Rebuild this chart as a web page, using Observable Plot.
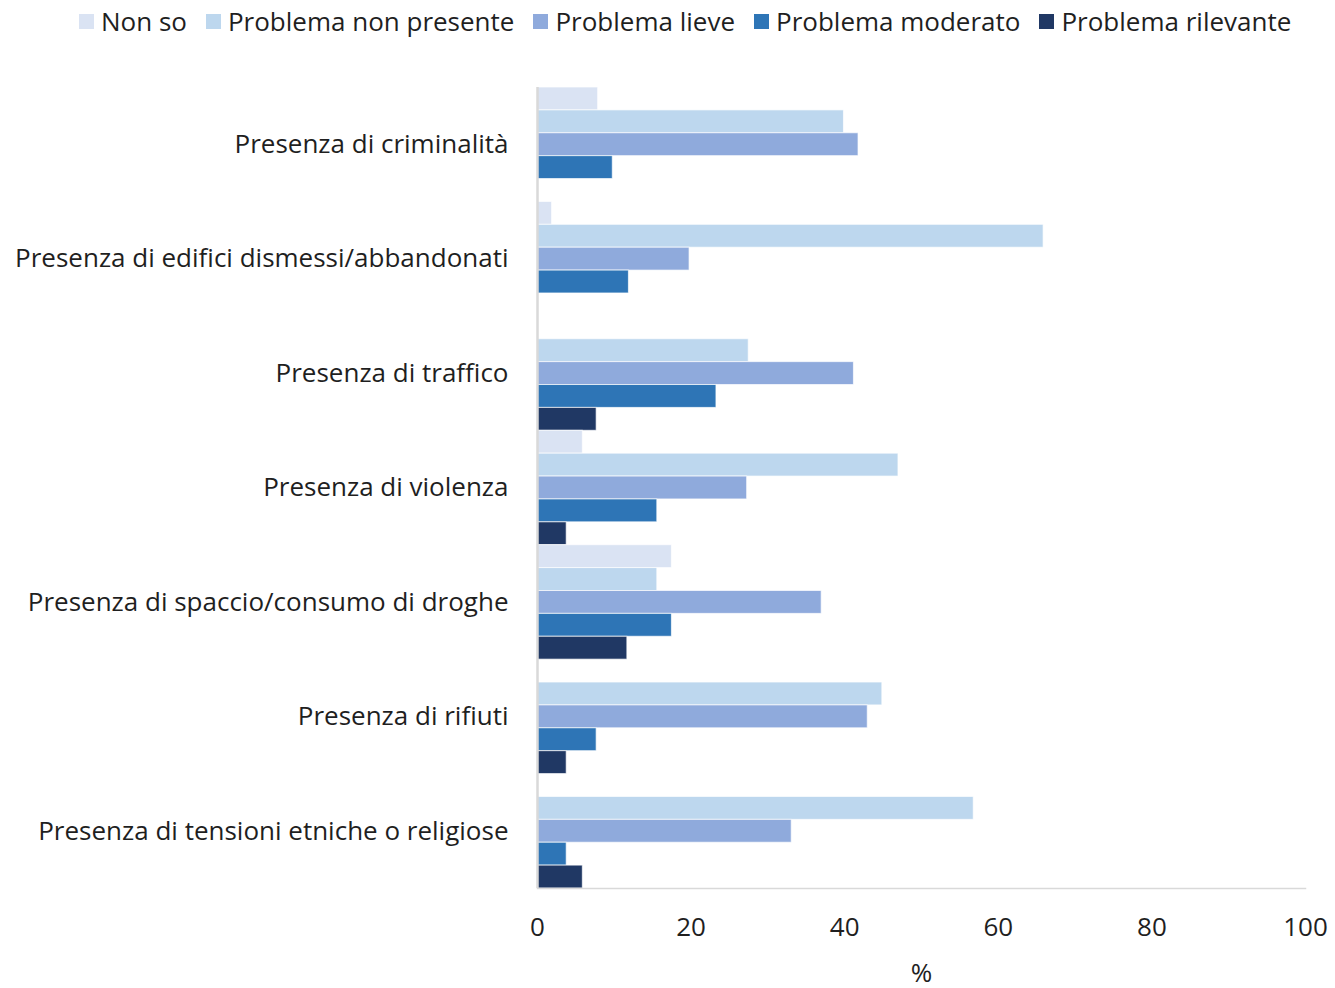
<!DOCTYPE html>
<html>
<head>
<meta charset="utf-8">
<script src="https://cdn.jsdelivr.net/npm/d3@7"></script>
<script src="https://cdn.jsdelivr.net/npm/@observablehq/plot@0.6"></script>
<style>
  html, body { margin: 0; padding: 0; background: #fff; }
  #legend { height: 42px; display: flex; align-items: center; padding-left: 79px; font-family: "Open Sans", sans-serif; font-size: 26px; color: #1f1f1f; white-space: nowrap; }
  #legend .item { display: flex; align-items: center; margin-right: 19px; }
  #legend .sw { width: 15px; height: 15px; margin-right: 7px; }
</style>
</head>
<body>
<div id="legend"></div>
<div id="chart"></div>
<script>
const categories = [
  "Presenza di criminalità",
  "Presenza di edifici dismessi/abbandonati",
  "Presenza di traffico",
  "Presenza di violenza",
  "Presenza di spaccio/consumo di droghe",
  "Presenza di rifiuti",
  "Presenza di tensioni etniche o religiose"
];
const series = ["Non so", "Problema non presente", "Problema lieve", "Problema moderato", "Problema rilevante"];
const nonSo       = [7.9, 1.9, 0, 5.9, 17.5, 0, 0];
const nonPresente = [39.9, 65.9, 27.5, 47.0, 15.6, 44.9, 56.8];
const lieve       = [41.8, 19.8, 41.2, 27.3, 37.0, 43.0, 33.1];
const moderato    = [9.8, 11.9, 23.3, 15.6, 17.5, 7.7, 3.8];
const rilevante   = [0, 0, 7.7, 3.8, 11.7, 3.8, 5.9];
const colors = ["#dae3f3", "#bdd7ee", "#8faadc", "#2e75b6", "#203864"];
const xTicks = [0, 20, 40, 60, 80, 100];

const values = [nonSo, nonPresente, lieve, moderato, rilevante];
const keys = categories.flatMap(c => series.map(s => c + "|" + s));
const data = categories.flatMap((c, i) =>
  series.map((s, j) => ({category: c, series: s, key: c + "|" + s, value: values[j][i]}))
).filter(d => d.value > 0);
const labelKeys = categories.map(c => c + "|" + series[2]);

// legend
const legend = document.getElementById("legend");
series.forEach((s, i) => {
  const item = document.createElement("div");
  item.className = "item";
  const sw = document.createElement("div");
  sw.className = "sw";
  sw.style.background = colors[i];
  const t = document.createElement("span");
  t.textContent = s;
  item.append(sw, t);
  legend.append(item);
});

const chart = Plot.plot({
  width: 1335,
  height: 946,
  marginLeft: 537,
  marginRight: 30,
  marginTop: 45,
  marginBottom: 100,
  style: {fontFamily: "'Open Sans', sans-serif", fontSize: "26px", color: "#1f1f1f", background: "#fff", overflow: "visible"},
  x: {domain: [0, 100]},
  y: {domain: keys, padding: 0},
  color: {domain: series, range: colors},
  marks: [
    Plot.barX(data, {x: "value", y: "key", fill: "series", stroke: "#ffffff", strokeWidth: 1, strokeOpacity: 0.7}),
    Plot.ruleX([0], {stroke: "#d9d9d9", strokeWidth: 2.5}),
    Plot.frame({anchor: "bottom", stroke: "#d9d9d9", strokeWidth: 1.5}),
    Plot.axisY({ticks: labelKeys, tickFormat: d => d.split("|")[0], tickSize: 0, tickPadding: 29, label: null, fontSize: 26}),
    Plot.axisX({ticks: xTicks, tickSize: 0, tickPadding: 29, label: null, fontSize: 26}),
    Plot.text(["%"], {frameAnchor: "bottom", dy: 93, fontSize: 26, fill: "currentColor"})
  ]
});
document.getElementById("chart").append(chart);
</script>
</body>
</html>
